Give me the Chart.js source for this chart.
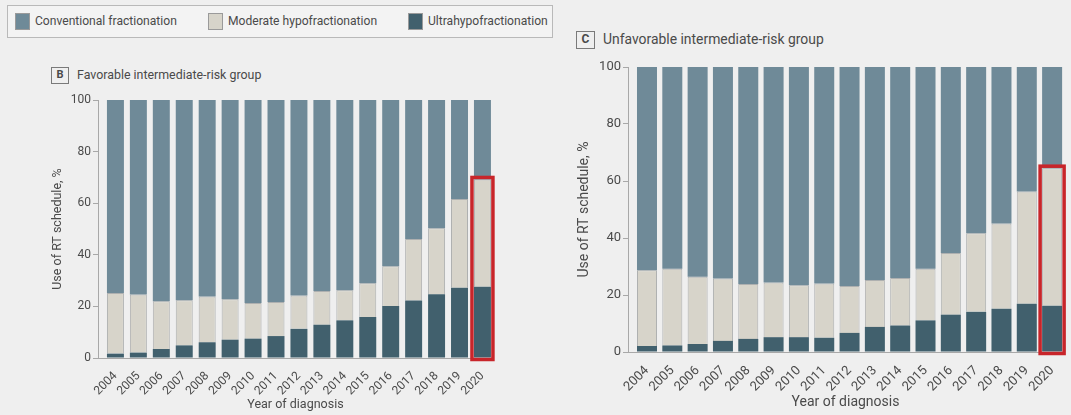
<!DOCTYPE html>
<html>
<head>
<meta charset="utf-8">
<script src="https://cdn.jsdelivr.net/npm/chart.js@4.4.0/dist/chart.umd.min.js"></script>
<style>
  html, body { margin:0; padding:0; background:#efefef; }
  body { width:1071px; height:415px; position:relative; overflow:hidden;
         font-family:Roboto,sans-serif; color:#4a4a4a; }
  .legend { position:absolute; left:7px; top:5px; width:544px; height:31px;
            border:1px solid #b9b9b9; background:#f3f3f3; }
  .item { position:absolute; top:7px; height:17px; line-height:17px; font-size:12.1px; white-space:nowrap; }
  .sw { display:inline-block; width:15px; height:17px; vertical-align:top; margin-right:5px;
        border:1px solid #9a9a9a; box-sizing:border-box; }
  .ptitle { position:absolute; white-space:nowrap; }
  .box { display:inline-block; border:1.5px solid #7a7a7a; font-weight:bold; text-align:center;
         box-sizing:border-box; margin-right:8px; vertical-align:middle; }
  canvas { position:absolute; }
</style>
</head>
<body>
<div class="legend">
  <div class="item" style="left:7px"><span class="sw" style="background:#6f8a98"></span>Conventional fractionation</div>
  <div class="item" style="left:200px"><span class="sw" style="background:#d7d4ca"></span>Moderate hypofractionation</div>
  <div class="item" style="left:400px"><span class="sw" style="background:#41606d"></span>Ultrahypofractionation</div>
</div>
<div class="ptitle" style="left:51px; top:66px; font-size:12.4px; line-height:18px;">
  <span class="box" style="width:18px;height:17px;font-size:11px;line-height:14px;">B</span>Favorable intermediate-risk group</div>
<div class="ptitle" style="left:576px; top:30px; font-size:13.9px; line-height:19px;">
  <span class="box" style="width:19px;height:18px;font-size:12px;line-height:15px;">C</span>Unfavorable intermediate-risk group</div>

<div style="position:absolute;left:0;top:90px;width:520px;height:325px;"><canvas id="c1"></canvas></div>
<div style="position:absolute;left:560px;top:55px;width:511px;height:360px;"><canvas id="c2"></canvas></div>

<script>
const years = [2004,2005,2006,2007,2008,2009,2010,2011,2012,2013,2014,2015,2016,2017,2018,2019,2020];
const yTicks = [0,20,40,60,80,100];

// Favorable intermediate-risk group (B)
const favUltra        = [1.7,2.1,3.5,4.9,6.1,7.1,7.5,8.5,11.3,12.9,14.6,15.9,20.2,22.3,24.7,27.2,27.6];
const favModerate     = [23.5,22.5,18.5,17.5,17.7,15.7,13.8,13.2,12.9,13.1,11.7,13.1,15.4,23.8,25.6,34.4,41.6];
const favConventional = [74.8,75.4,78.0,77.6,76.2,77.2,78.7,78.3,75.8,74.0,73.7,71.0,64.4,53.9,49.7,38.4,30.8];

// Unfavorable intermediate-risk group (C)
const unfUltra        = [2.1,2.3,2.8,3.9,4.6,5.2,5.2,5.0,6.7,8.8,9.3,11.1,13.1,14.1,15.2,16.9,16.2];
const unfModerate     = [26.6,26.9,23.6,21.9,19.3,19.2,18.2,19.0,16.5,16.5,16.7,18.1,21.6,27.6,29.9,39.4,48.3];
const unfConventional = [71.3,70.8,73.6,74.2,76.1,75.6,76.6,76.0,76.8,74.7,74.0,70.8,65.3,58.3,54.9,43.7,35.5];

const highlightYear = 2020;

const COL_CONV = '#6f8a98', COL_MOD = '#d7d4ca', COL_ULTRA = '#41606d';
const FONT = 'Roboto, sans-serif';
const TXT = '#4a4a4a';

function pts(arr){ return years.map((y,i)=>({x:y, y:arr[i]})); }

const highlightPlugin = {
  id:'highlight',
  afterDatasetsDraw(chart){
    const idx = years.indexOf(highlightYear);
    const metaTop = chart.getDatasetMeta(1).data[idx];
    const metaBase = chart.getDatasetMeta(0).data[idx];
    if(!metaTop || !metaBase) return;
    const p = metaTop.getProps(['x','y','width'], true);
    const b = metaBase.getProps(['base'], true);
    const ctx = chart.ctx;
    ctx.save();
    ctx.strokeStyle = '#c8252a';
    ctx.lineWidth = 3.5;
    const l = p.x - p.width/2 - 2, r = p.x + p.width/2 + 2;
    const t = p.y - 2, bt = b.base + 2;
    ctx.strokeRect(l, t, r-l, bt-t);
    ctx.restore();
  }
};

function makeChart(id, ultra, moderate, conv, cfg){
  return new Chart(document.getElementById(id), {
    type:'bar',
    data:{
      datasets:[
        {label:'Ultrahypofractionation', data:pts(ultra), backgroundColor:COL_ULTRA, borderWidth:0},
        {label:'Moderate hypofractionation', data:pts(moderate), backgroundColor:COL_MOD,
         borderColor:'rgba(120,124,124,0.55)', borderWidth:1},
        {label:'Conventional fractionation', data:pts(conv), backgroundColor:COL_CONV, borderWidth:0}
      ]
    },
    options:{
      responsive:true, maintainAspectRatio:false, animation:false,
      layout:{padding:cfg.padding},
      datasets:{bar:{categoryPercentage:1, barPercentage:cfg.barPct}},
      plugins:{legend:{display:false}, tooltip:{enabled:false}},
      scales:{
        x:{
          type:'linear', stacked:true, offset:false, min:cfg.xmin, max:cfg.xmax,
          afterBuildTicks(s){ s.ticks = years.map(v=>({value:v})); },
          afterFit(s){ s.height = cfg.xh; s.paddingLeft = 0; s.paddingRight = 0; },
          grid:{display:false, offset:false},
          border:{display:true, color:'#a8a8a8', width:1},
          ticks:{autoSkip:false, minRotation:45, maxRotation:45, padding:cfg.xtpad,
                 color:TXT, font:{family:FONT, size:cfg.fs}, callback:v=>String(v)},
          title:{display:true, text:'Year of diagnosis', color:TXT,
                 font:{family:FONT, size:cfg.tfs}, padding:{top:0,bottom:cfg.xtitlePad}}
        },
        y:{
          stacked:true, min:0, max:100,
          afterBuildTicks(s){ s.ticks = yTicks.map(v=>({value:v})); },
          afterFit(s){ s.width = cfg.yw; },
          grid:{drawOnChartArea:false, drawTicks:true, tickLength:5, color:'#a8a8a8'},
          border:{display:true, color:'#a8a8a8', width:1},
          ticks:{padding:2, color:TXT, font:{family:FONT, size:cfg.fs}},
          title:{display:true, text:'Use of RT schedule, %', color:TXT,
                 font:{family:FONT, size:cfg.tfs}, padding:{top:cfg.ytitlePad,bottom:0}}
        }
      }
    },
    plugins:[highlightPlugin]
  });
}

makeChart('c1', favUltra, favModerate, favConventional, {
  padding:{top:10,left:44,right:27,bottom:0}, barPct:0.74, xmin:2003.24, xmax:2020.46,
  xh:57, yw:54, fs:12, tfs:12.5, xtpad:3, xtitlePad:3, ytitlePad:6
});
makeChart('c2', unfUltra, unfModerate, unfConventional, {
  padding:{top:12,left:10,right:8,bottom:0}, barPct:0.79, xmin:2003.25, xmax:2020.43,
  xh:63, yw:58, fs:13, tfs:14, xtpad:3, xtitlePad:4, ytitlePad:6
});
</script>
</body>
</html>
